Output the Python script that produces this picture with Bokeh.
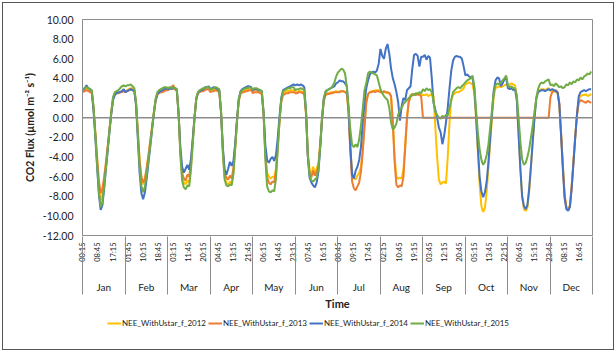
from math import pi
from bokeh.plotting import figure
from bokeh.layouts import column
from bokeh.models import (Range1d, FixedTicker, LinearAxis, Span, Legend, LegendItem,
                          NumeralTickFormatter, ColumnDataSource)
from bokeh.embed import file_html
from bokeh.resources import INLINE

months = ["Jan", "Feb", "Mar", "Apr", "May", "Jun", "Jul", "Aug", "Sep", "Oct", "Nov", "Dec"]
hours = list(range(24))          # hourly samples at HH:15 of the mean diurnal cycle
labels = ["NEE_WithUstar_f_2012", "NEE_WithUstar_f_2013", "NEE_WithUstar_f_2014", "NEE_WithUstar_f_2015"]
colors = ["#FFC000", "#ED7D31", "#4472C4", "#70AD47"]
y_ticks = [-12, -10, -8, -6, -4, -2, 0, 2, 4, 6, 8, 10]

nee_2012 = [
    2.7,2.8,2.9,2.8,2.7,2.6,1.0,-1.6,-4.4,-7.0,-8.4,-7.9,-6.4,-4.8,-3.0,-1.2,0.6,2.0,2.4,2.6,2.5,2.6,2.7,2.8,
    2.7,2.8,2.9,3.0,2.9,2.8,1.5,-1.5,-4.5,-6.3,-6.8,-6.3,-5.2,-3.9,-2.5,-1.0,0.5,1.8,2.4,2.6,2.7,2.7,2.8,2.9,
    2.9,3.0,2.9,3.0,2.9,2.8,0.5,-3.5,-6.0,-6.6,-6.8,-6.4,-6.6,-5.0,-2.5,0.0,2.0,2.6,2.7,2.8,2.8,2.9,2.9,3.0,
    2.8,2.9,2.8,2.9,2.8,2.7,0.6,-3.4,-6.0,-6.6,-6.9,-6.5,-6.7,-5.5,-3.0,-0.3,1.8,2.6,2.7,2.8,2.8,2.9,2.9,2.8,
    2.7,2.8,2.8,2.7,2.6,2.5,0.5,-3.5,-5.6,-6.0,-6.2,-6.0,-6.1,-5.2,-2.8,-0.2,1.8,2.5,2.6,2.7,2.7,2.8,2.8,2.8,
    2.6,2.6,2.7,2.7,2.6,2.5,0.4,-3.6,-5.3,-5.8,-5.0,-5.6,-5.2,-4.6,-2.6,0.0,1.8,2.4,2.5,2.5,2.6,2.6,2.6,2.7,
    2.6,2.7,2.7,2.7,2.6,2.5,0.6,-3.0,-5.6,-6.1,-6.3,-5.9,-5.6,-5.0,-3.2,-0.8,1.6,2.4,2.6,2.7,2.7,2.8,2.8,2.8,
    2.6,2.6,2.6,2.6,2.5,2.5,2.1,-0.4,-4.0,-6.0,-6.2,-6.1,-6.2,-5.3,-2.7,0.0,1.8,2.3,2.4,2.4,2.4,2.5,2.4,2.4,
    2.3,2.3,2.4,2.2,2.3,2.4,2.2,-1.0,-4.0,-6.3,-6.8,-6.6,-6.5,-6.7,-4.0,-0.5,1.8,2.3,2.5,2.6,2.6,2.7,2.8,3.0,
    3.4,3.5,3.6,3.5,3.4,2.5,0.0,-3.5,-6.8,-9.0,-9.6,-9.2,-7.5,-5.0,-2.5,0.0,2.2,3.0,3.1,3.2,3.1,3.2,3.3,3.4,
    3.3,3.4,3.5,3.4,3.3,2.0,-1.5,-5.0,-8.0,-9.3,-9.5,-9.2,-7.5,-5.0,-2.5,0.0,2.0,2.7,2.8,2.9,2.9,2.8,2.9,3.0,
    2.7,2.8,2.7,2.6,2.6,1.3,-1.6,-5.0,-8.0,-9.1,-9.3,-8.9,-7.0,-4.4,-1.9,0.3,1.9,2.2,2.3,2.3,2.4,2.2,2.3,2.4,
]
nee_2013 = [
    2.6,2.7,2.8,2.7,2.6,2.5,0.9,-1.5,-4.0,-6.4,-7.7,-7.2,-6.0,-4.5,-2.9,-1.2,0.5,1.9,2.4,2.5,2.5,2.6,2.6,2.7,
    2.6,2.7,2.8,2.9,2.8,2.7,1.4,-1.4,-4.3,-6.0,-6.6,-6.2,-5.1,-3.8,-2.4,-1.0,0.4,1.7,2.3,2.5,2.6,2.6,2.7,2.8,
    2.8,2.9,3.1,3.3,2.9,2.7,0.4,-3.3,-5.6,-6.2,-6.4,-5.8,-6.0,-4.6,-2.3,0.0,1.9,2.5,2.6,2.7,2.7,2.8,2.9,2.9,
    2.6,2.7,2.7,2.8,2.7,2.6,0.5,-3.2,-5.6,-6.1,-6.3,-5.9,-6.2,-5.1,-2.8,-0.3,1.7,2.4,2.6,2.6,2.7,2.7,2.8,2.8,
    2.5,2.6,2.6,2.6,2.5,2.4,0.4,-3.8,-6.1,-6.6,-6.8,-6.5,-6.6,-5.5,-3.0,-0.3,1.6,2.3,2.4,2.5,2.5,2.6,2.6,2.6,
    2.5,2.5,2.6,2.6,2.5,2.4,0.3,-3.9,-5.7,-6.1,-5.4,-5.9,-5.5,-4.9,-2.8,-0.2,1.7,2.3,2.4,2.4,2.5,2.5,2.6,2.6,
    2.6,2.6,2.7,2.7,2.6,2.5,0.5,-3.5,-6.5,-7.2,-7.4,-7.0,-6.6,-5.5,-3.5,-1.0,1.5,2.4,2.6,2.6,2.7,2.6,2.7,2.7,
    2.6,2.6,2.7,2.6,2.6,2.5,2.2,-0.5,-4.5,-6.8,-7.1,-6.9,-7.0,-6.0,-3.0,0.0,1.6,2.1,2.3,2.4,2.3,2.4,2.3,2.2,
    0,0,0,0,0,0,0,0,0,0,0,0,0,0,0,0,0,0,0,0,0,0,0,0,
    0,0,0,0,0,0,0,0,0,0,0,0,0,0,0,0,0,0,0,0,0,0,0,0,
    0,0,0,0,0,0,0,0,0,0,0,0,0,0,0,0,0,0,0,0,0,0,0,0,
    2.1,2.6,2.7,2.8,2.6,1.5,-1.5,-4.8,-7.8,-9.2,-9.4,-9.0,-7.0,-4.5,-2.0,0.3,1.5,1.8,1.7,1.6,1.5,1.7,1.6,1.5,
]
nee_2014 = [
    2.8,3.0,3.3,3.0,2.9,2.7,0.7,-2.0,-5.0,-7.8,-9.4,-8.9,-7.2,-5.2,-3.3,-1.4,0.4,1.8,2.3,2.5,2.6,2.6,2.7,2.9,
    2.6,2.7,2.8,2.9,2.8,2.8,1.2,-2.2,-5.6,-7.7,-8.3,-7.6,-6.2,-4.6,-3.0,-1.3,0.3,1.7,2.4,2.6,2.7,2.8,2.9,3.0,
    2.9,3.0,2.9,3.0,3.0,2.9,0.4,-3.0,-5.0,-5.6,-5.2,-4.8,-5.3,-4.2,-2.2,0.0,1.9,2.6,2.7,2.8,2.9,3.1,3.1,3.2,
    2.9,3.0,3.1,3.0,2.9,2.8,0.5,-3.0,-5.3,-5.8,-5.2,-4.5,-4.9,-4.4,-2.6,-0.2,1.9,2.7,2.9,3.0,3.1,3.2,3.2,3.1,
    2.8,2.9,2.9,2.8,2.8,2.7,0.5,-2.8,-4.3,-4.6,-4.2,-4.0,-4.4,-3.8,-2.1,0.1,2.0,2.8,2.9,3.0,3.1,3.2,3.3,3.4,
    3.3,3.4,3.3,3.4,3.3,3.1,0.5,-4.0,-6.1,-6.6,-6.9,-7.1,-6.6,-5.5,-3.0,-0.2,1.9,2.6,2.8,2.9,3.0,3.1,3.2,3.5,
    3.6,3.8,3.7,3.7,3.5,3.2,1.0,-3.0,-5.8,-6.2,-5.4,-5.0,-4.3,-3.0,-0.5,1.5,3.0,3.8,4.4,4.6,4.7,4.6,4.8,5.5,
    7.0,6.3,6.0,7.0,7.5,6.5,5.0,4.0,3.4,2.6,1.6,-0.3,1.2,2.0,1.8,2.8,3.0,3.2,5.0,6.4,6.5,6.3,5.2,6.2,
    6.2,6.4,5.9,6.3,6.1,4.0,1.5,0.8,0.0,-1.0,-1.5,-2.7,-1.8,-0.5,1.0,3.0,4.8,5.8,6.2,6.3,6.2,6.2,6.0,5.2,
    4.3,4.4,4.2,4.1,4.0,3.0,0.2,-3.0,-6.0,-7.5,-8.1,-7.6,-6.5,-4.5,-2.0,0.5,2.8,3.8,4.1,4.0,3.2,3.5,3.9,4.0,
    3.0,2.9,3.0,2.8,2.9,1.8,-1.7,-5.2,-8.0,-9.0,-9.3,-8.9,-7.2,-4.9,-2.4,0.0,1.9,2.6,2.7,2.8,2.8,2.7,2.8,2.9,
    2.8,2.9,2.8,2.7,2.6,1.4,-1.8,-5.2,-8.2,-9.3,-9.5,-9.1,-7.2,-4.6,-2.0,0.4,2.2,2.6,2.7,2.8,2.7,2.8,2.9,2.9,
]
nee_2015 = [
    2.9,3.0,3.1,3.0,2.9,2.8,1.1,-1.8,-4.8,-7.6,-9.1,-8.6,-7.0,-5.1,-3.2,-1.3,0.6,2.1,2.6,2.7,2.8,3.0,3.2,3.3,
    3.2,3.3,3.3,3.4,3.2,3.0,1.6,-1.8,-5.0,-7.0,-7.6,-7.0,-5.8,-4.3,-2.8,-1.2,0.4,1.9,2.6,2.8,2.9,3.0,3.1,3.1,
    3.0,3.1,3.0,3.1,3.0,2.9,0.6,-3.8,-6.4,-7.1,-7.3,-6.9,-7.0,-5.3,-2.7,-0.1,2.0,2.6,2.8,2.9,3.0,3.0,3.1,3.1,
    2.9,2.9,3.0,3.1,3.0,2.9,0.6,-3.6,-6.3,-6.9,-7.0,-6.8,-6.9,-5.7,-3.1,-0.4,1.9,2.6,2.8,2.9,3.0,3.0,3.1,3.0,
    2.9,3.0,3.0,2.9,2.8,2.7,0.5,-4.2,-7.0,-7.5,-7.6,-7.4,-7.5,-6.2,-3.3,-0.4,1.9,2.7,2.8,2.9,3.0,3.0,3.1,3.1,
    2.8,2.9,2.9,3.0,2.9,2.8,0.6,-3.8,-5.9,-6.4,-6.5,-6.3,-6.1,-5.2,-2.9,-0.1,2.0,2.7,2.8,2.9,3.0,3.2,3.6,4.2,
    4.6,4.8,5.0,4.9,4.5,3.2,1.0,-1.2,-2.8,-3.0,-2.7,-3.0,-2.2,-0.8,0.9,2.8,3.5,4.5,4.7,4.6,4.5,4.4,4.3,3.6,
    2.9,2.5,2.2,2.0,1.8,1.0,-0.5,-1.2,-1.0,-0.6,0.3,0.8,1.0,1.4,1.6,1.8,2.0,2.2,2.4,2.3,2.5,2.4,2.6,2.5,
    2.9,2.7,3.0,2.8,2.9,2.6,1.6,0.6,0.3,0.0,-0.1,0.2,0.0,0.3,0.2,1.0,1.8,2.6,2.8,3.0,3.1,3.0,3.2,3.4,
    3.6,3.8,3.9,4.0,4.3,3.2,0.8,-1.5,-3.2,-4.3,-4.8,-4.5,-3.8,-2.7,-1.0,0.8,2.6,3.3,3.5,3.4,3.6,3.8,4.0,4.3,
    3.3,3.1,3.2,3.0,3.0,2.3,0.0,-2.4,-4.2,-4.8,-4.6,-4.0,-3.2,-2.0,-0.8,0.6,2.0,2.9,3.4,3.6,3.5,3.7,3.8,3.9,
    3.3,3.4,3.2,3.5,3.3,3.1,3.2,3.0,3.1,3.4,3.3,3.6,3.4,3.7,3.6,3.9,3.8,4.1,3.9,4.2,4.3,4.5,4.4,4.7,
]
series = [nee_2012, nee_2013, nee_2014, nee_2015]

# category index: 48 half-hour slots per month (00:15 ... 23:45)
SLOTS = 48
x = [m * SLOTS + 2 * h for m in range(len(months)) for h in hours]
n_slots = SLOTS * len(months)

def slot_label(i):
    k = i % SLOTS
    return "%02d:%02d" % (k // 2, 15 + 30 * (k % 2))

time_ticks = list(range(0, n_slots, 17))
time_labels = {t: slot_label(t) for t in time_ticks}
month_edges = [m * SLOTS - 0.5 for m in range(len(months) + 1)]
month_mid = [m * SLOTS + 23.5 for m in range(len(months))]
month_labels = {c: mo for c, mo in zip(month_mid, months)}

FONT = "Lato"
GRAY = "#8c8c8c"
TXT = "#222222"

p = figure(frame_width=510, frame_height=216,
           x_range=Range1d(-0.5, n_slots - 0.5), y_range=Range1d(-12, 10),
           output_backend="svg", toolbar_location=None, x_axis_location=None,
           min_border_left=82, min_border_right=24, min_border_top=19, min_border_bottom=77,
           background_fill_color="white", border_fill_color=None)
p.xgrid.visible = False
p.ygrid.visible = False
p.outline_line_color = GRAY
p.outline_line_width = 1

yax = p.yaxis[0]
yax.ticker = FixedTicker(ticks=y_ticks)
yax.formatter = NumeralTickFormatter(format="0.00")
yax.major_tick_out = 0
yax.major_tick_in = 0
yax.minor_tick_out = 0
yax.minor_tick_in = 0
yax.axis_line_color = GRAY
yax.major_label_text_font = FONT
yax.major_label_text_font_size = "10.5px"
yax.major_label_text_color = TXT
yax.major_label_standoff = 9
yax.axis_label = "CO2 Flux (\u00b5mol m\u207b\u00b2 s\u207b\u00b9)"
yax.axis_label_text_font = FONT
yax.axis_label_text_font_size = "10.5px"
yax.axis_label_text_font_style = "bold"
yax.axis_label_text_color = TXT
yax.axis_label_standoff = 4

# half-hour time labels (every 17th slot)
ax_t = LinearAxis(ticker=FixedTicker(ticks=time_ticks, minor_ticks=[]),
                  major_label_overrides=time_labels,
                  major_label_orientation=pi / 2,
                  major_tick_out=0, major_tick_in=0, minor_tick_out=0, minor_tick_in=0,
                  axis_line_color=GRAY,
                  major_label_text_font=FONT, major_label_text_font_size="7.5px",
                  major_label_text_color=TXT, major_label_standoff=7)
p.add_layout(ax_t, "below")

# month group labels with separators between months
ax_m = LinearAxis(ticker=FixedTicker(ticks=month_mid, minor_ticks=month_edges),
                  major_label_overrides=month_labels,
                  major_tick_out=0, major_tick_in=0,
                  minor_tick_in=28, minor_tick_out=30,
                  minor_tick_line_color=GRAY, minor_tick_line_width=1,
                  axis_line_color=None,
                  major_label_text_font=FONT, major_label_text_font_size="10px",
                  major_label_text_color=TXT, major_label_standoff=-14,
                  axis_label="Time", axis_label_text_font=FONT,
                  axis_label_text_font_size="11px", axis_label_text_font_style="bold",
                  axis_label_text_color=TXT, axis_label_standoff=1)
p.add_layout(ax_m, "below")

p.add_layout(Span(location=0, dimension="width", line_color=GRAY, line_width=1.5))

for vals, col in zip(series, colors):
    src = ColumnDataSource(data=dict(x=x, y=vals))
    p.line("x", "y", source=src, line_color=col, line_width=2)

# legend strip below the chart (legend-only proxy glyphs, no visible data)
lg = figure(width=616, height=40, x_range=Range1d(0, 1), y_range=Range1d(0, 1),
            output_backend="svg", toolbar_location=None,
            x_axis_location=None, y_axis_location=None, min_border=0,
            outline_line_color=None, background_fill_color=None, border_fill_color=None)
lg.xgrid.visible = False
lg.ygrid.visible = False
items = []
for name, col in zip(labels, colors):
    r = lg.line(x=[float("nan")], y=[float("nan")], line_color=col, line_width=2)
    items.append(LegendItem(label=name, renderers=[r]))
legend = Legend(items=items, orientation="horizontal", location=(25, 24),
                label_text_font=FONT, label_text_font_size="8px", label_text_color=TXT,
                glyph_width=14, glyph_height=10, label_standoff=1, spacing=2,
                padding=4, margin=0, border_line_color=None, background_fill_alpha=0)
lg.add_layout(legend, "center")

page = column(p, lg, spacing=0,
              styles={"outline": "1px solid #555555", "outline-offset": "-3px"})
open("out.html", "w").write(file_html(page, INLINE))
